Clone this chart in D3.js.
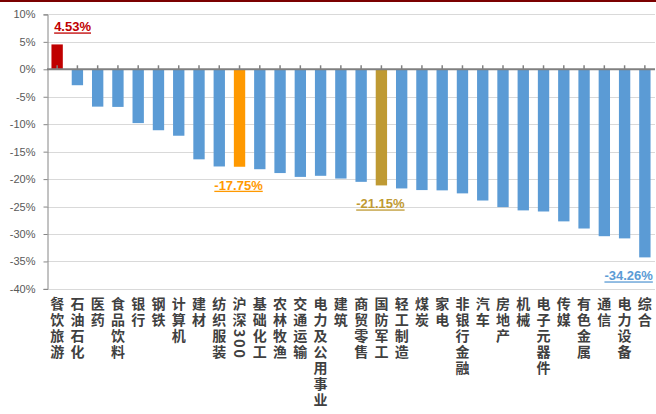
<!DOCTYPE html>
<html>
<head>
<meta charset="utf-8">
<script src="https://cdn.jsdelivr.net/npm/d3@7"></script>
<style>
  html, body { margin: 0; padding: 0; background: #fff; }
  svg { display: block; }
  .cat { font-family: "Noto Sans CJK SC", sans-serif; font-weight: 700; font-size: 14px; fill: #404040;
         writing-mode: vertical-rl; letter-spacing: 2px; }
  .tick-label { font-family: "Liberation Sans", Arial, sans-serif; font-size: 11px; fill: #595959; }
  .val { font-family: "Liberation Sans", Arial, sans-serif; font-size: 13px; font-weight: 700;
         text-decoration: underline; }
</style>
</head>
<body>
<div id="chart"></div>
<script>
(function () {
  'use strict';

  /* ── Data ── */
  var categories = ['餐饮旅游', '石油石化', '医药', '食品饮料', '银行', '钢铁', '计算机', '建材',
    '纺织服装', '沪深300', '基础化工', '农林牧渔', '交通运输', '电力及公用事业', '建筑', '商贸零售',
    '国防军工', '轻工制造', '煤炭', '家电', '非银行金融', '汽车', '房地产', '机械', '电子元器件',
    '传媒', '有色金属', '通信', '电力设备', '综合'];
  var values = [4.53, -2.9, -6.8, -6.85, -9.8, -11.1, -12.1, -16.4,
    -17.7, -17.75, -18.2, -18.9, -19.6, -19.4, -19.9, -20.5,
    -21.15, -21.7, -22.0, -22.05, -22.6, -23.9, -25.1, -25.7, -25.9,
    -27.7, -29.0, -30.4, -30.8, -34.26];
  var yTicks = [10, 5, 0, -5, -10, -15, -20, -25, -30, -35, -40];
  var labelled = ['餐饮旅游', '沪深300', '国防军工', '综合'];

  /* ── Styles ── */
  var BLUE = '#5B9BD5';
  var special = { '餐饮旅游': '#C00000', '沪深300': '#FF9900', '国防军工': '#BF9A33' };
  function colorOf(c) { return special[c] || BLUE; }

  var W = 656, H = 414;
  var svg = d3.select('#chart').append('svg').attr('width', W).attr('height', H);

  /* top rule */
  svg.append('rect').attr('x', 0).attr('y', 0).attr('width', W).attr('height', 2).attr('fill', '#7B0000');

  var x = d3.scaleBand().domain(categories).range([47, 655]).paddingInner(0.44).paddingOuter(0.22);
  var y = d3.scaleLinear().domain([-40, 10]).range([288.9, 14.4]);

  /* gridlines */
  svg.append('g').selectAll('line').data(yTicks).join('line')
    .attr('x1', 47).attr('x2', 655)
    .attr('y1', function (d) { return Math.round(y(d)) + 0.5; })
    .attr('y2', function (d) { return Math.round(y(d)) + 0.5; })
    .attr('stroke', '#D9D9D9').attr('stroke-width', 1);

  /* y axis */
  var yAxis = svg.append('g').attr('transform', 'translate(47.5,0)')
    .call(d3.axisLeft(y).tickValues(yTicks).tickSize(4).tickPadding(8)
      .tickFormat(function (d) { return d + '%'; }));
  yAxis.select('.domain').attr('stroke', '#868686');
  yAxis.selectAll('.tick line').attr('stroke', '#868686');
  yAxis.selectAll('.tick text').attr('class', 'tick-label').attr('font-family', null).attr('font-size', null);

  /* bars */
  svg.append('g').selectAll('rect').data(categories).join('rect')
    .attr('x', function (c) { return x(c); })
    .attr('width', x.bandwidth())
    .attr('y', function (c, i) { return y(Math.max(0, values[i])); })
    .attr('height', function (c, i) { return Math.abs(y(values[i]) - y(0)); })
    .attr('fill', function (c) { return colorOf(c); });

  /* zero axis with ticks at bar centres */
  var zeroY = y(0);
  svg.append('line').attr('x1', 47).attr('x2', 655).attr('y1', zeroY).attr('y2', zeroY)
    .attr('stroke', '#808080').attr('stroke-width', 2);
  svg.append('g').selectAll('line').data(categories).join('line')
    .attr('x1', function (c) { return x(c) + x.bandwidth() / 2; })
    .attr('x2', function (c) { return x(c) + x.bandwidth() / 2; })
    .attr('y1', zeroY - 4).attr('y2', zeroY)
    .attr('stroke', '#808080').attr('stroke-width', 1.5);

  /* value labels */
  svg.append('g').selectAll('text').data(labelled).join('text')
    .attr('class', 'val')
    .attr('fill', function (c) { return c === '综合' ? BLUE : colorOf(c); })
    .attr('text-anchor', function (c) {
      var i = categories.indexOf(c);
      if (i === 0) return 'start';
      if (i === categories.length - 1) return 'end';
      return 'middle';
    })
    .attr('x', function (c) {
      var i = categories.indexOf(c), cx = x(c) + x.bandwidth() / 2;
      if (i === 0) return cx - 3;
      if (i === categories.length - 1) return cx + 8;
      return cx - 1;
    })
    .attr('y', function (c) {
      var v = values[categories.indexOf(c)];
      return v > 0 ? y(v) - 13 : y(v) + 23;
    })
    .text(function (c) { return values[categories.indexOf(c)].toFixed(2) + '%'; });

  /* category labels, stacked vertically */
  svg.append('g').selectAll('text').data(categories).join('text')
    .attr('class', 'cat')
    .attr('x', function (c) { return x(c) + x.bandwidth() / 2; })
    .attr('y', 297)
    .text(function (c) { return c; });
})();
</script>
</body>
</html>
